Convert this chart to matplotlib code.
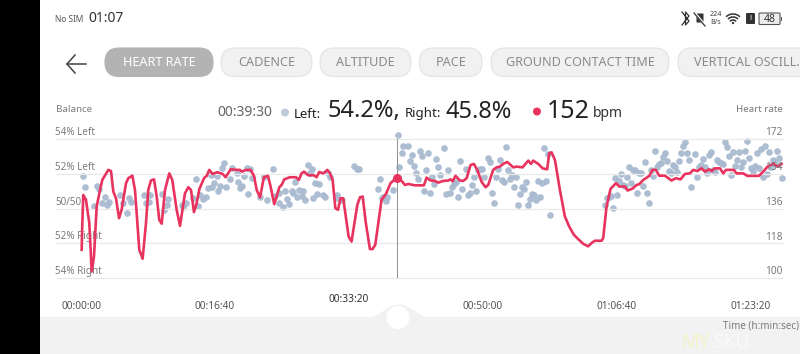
import numpy as np
import matplotlib
matplotlib.use("Agg")
import matplotlib.pyplot as plt
from matplotlib.patches import FancyBboxPatch, Rectangle, Circle

plt.rcParams['font.family'] = ['Noto Sans', 'DejaVu Sans']

#heart rate line: time in seconds, bpm
hr_time = [5,10,17,37,62,80,97,117,142,159,204,224,241,261,284,303,336,353,383,403,435,460,485,502,522,545,565,584,602,627,659,681,714,739,776,801,821,843,863,883,918,938,957,982,1017,1057,1079,1117,1161,1186,1201,1231,1266,1291,1311,1336,1365,1395,1415,1442,1480,1497,1517,1559,1604,1626,1646,1664,1696,
    1738,1758,1778,1808,1838,1858,1878,1898,1918,1937,1957,1997,2019,2062,2082,2102,2126,2156,2176,2196,2243,2276,2310,2355,2393,2417,2442,2492,2559,2579,2609,2641,2666,2703,2741,2758,2773,2795,2828,2853,2878,2907,2932,2957,2989,3019,3039,3076,3101,3126,3151,3181,3226,3251,3295,3338,3358,3375,3412,3445,3479,3494,3512,3537,3574,3611,3643,
    3678,3711,3748,3785,3810,3835,3885,3897,3922,3952,3992,4017,4059,4079,4116,4146,4166,4196,4241,4265,4290,4315,4357,4407,4439,4474,4507,4544,4569,4599,4631,4656,4688,4706,4730,4768,4793,4813,4872,4892,4942,4972,5059,5091,5128,5166,5196,5228]
hr_bpm = [114.6,128.4,143.0,140.5,128.4,103.4,111.2,137.0,145.6,150.8,156.0,155.4,144.8,141.3,131.0,135.3,149.1,151.7,153.0,145.6,114.6,110.0,128.4,145.6,150.5,151.1,142.2,130.1,128.1,145.6,154.2,150.8,135.3,127.0,143.9,147.0,145.6,134.1,138.7,146.0,151.7,152.9,156.0,153.9,154.8,153.9,152.2,156.3,156.0,156.0,155.1,156.0,156.0,152.9,145.6,141.8,152.2,152.9,147.4,138.2,147.0,148.2,151.1,152.2,152.2,150.8,154.2,155.1,153.2,
    153.2,152.2,154.9,154.2,156.0,154.2,150.8,136.2,135.3,141.3,141.3,121.5,118.9,137.9,141.8,142.2,128.4,115.0,115.0,117.2,140.5,143.6,149.1,152.0,150.3,148.2,148.7,148.0,148.0,152.0,150.5,150.3,149.4,150.3,150.5,151.1,150.1,152.9,150.5,150.3,151.7,158.5,159.1,156.0,149.9,147.0,148.2,156.0,157.3,157.7,159.1,160.1,157.3,157.7,157.3,160.8,159.1,160.8,159.1,156.8,156.3,164.6,165.1,161.1,145.6,131.9,126.7,
    122.4,120.1,117.7,116.4,118.1,119.3,119.3,120.7,137.0,146.2,149.1,147.4,147.4,145.3,146.3,148.2,148.6,150.8,152.9,156.0,156.0,153.0,153.0,150.5,151.7,151.1,153.9,154.2,156.0,155.4,156.8,155.1,156.3,155.4,156.8,156.8,154.2,156.0,156.0,154.2,154.2,152.9,152.9,155.1,158.0,159.1,157.7,159.1]

#balance dots: time in seconds, left share in percent
bal_time = [17,32,117,132,99,154,179,191,206,293,311,341,356,371,470,485,515,505,607,639,652,619,751,781,764,860,838,888,875,913,933,950,975,992,967,1012,1025,1040,1084,1069,1054,1112,1129,1161,1174,1204,1186,1248,1219,1236,1261,1278,1336,1368,1385,1435,1447,1480,1480,1510,1525,1539,1554,1572,1584,1597,1614,1629,1646,1659,1674,1691,
    1721,1709,1733,1746,1778,1763,1803,1821,1845,1858,1908,1913,1950,2039,2057,2072,2228,2213,2243,2256,2276,2286,2325,2363,2375,2393,2405,2437,2467,2529,2542,2587,2455,2482,2497,2512,2574,2619,2646,2661,2679,2706,2738,2557,2601,2631,2721,2751,2768,2783,2798,2810,2825,2840,2870,2885,2900,2915,2932,2947,2960,2975,2989,3007,3037,3052,3067,3081,3096,3111,3126,3141,3156,3171,3186,3201,3216,3231,3246,3261,3275,3290,3305,3320,3335,3350,3365,3380,3395,3410,3425,3440,3455,3469,3484,3499,
    3907,3922,3937,3952,3969,3984,3999,4014,4029,4044,4059,4074,4089,4104,4119,4134,4148,4163,4178,4193,4208,4223,4238,4253,4268,4283,4298,4313,4328,4342,4357,4372,4387,4402,4417,4432,4447,4462,4477,4492,4507,4522,4536,4551,4584,4599,4614,4628,4643,4658,4673,4688,4703,4718,4733,4748,4763,4778,4793,4808,4822,4837,4852,4867,4882,4897,4912,4927,4942,4957,4972,4987,5002,5016,5031,5046,5061,5076,5091,5106,5121,5136,5151,5166,5181,5196,5210,5228]
bal_left = [51.89,51.21,51.30,51.11,50.17,50.34,50.69,50.21,50.40,50.75,50.31,49.73,50.59,50.40,50.77,50.34,50.78,50.40,50.82,50.21,50.57,49.92,50.21,50.31,50.08,51.68,50.59,50.78,50.17,50.54,50.65,51.17,51.21,51.45,51.93,51.88,50.98,51.32,51.22,52.60,52.32,51.68,52.32,52.07,51.51,51.30,51.17,50.84,51.88,52.32,52.26,51.74,50.65,51.80,50.50,52.26,50.73,50.88,50.34,50.06,51.03,50.57,50.25,51.03,50.88,51.55,50.65,51.07,50.73,50.98,50.50,52.51,
    52.26,52.03,50.59,51.45,51.40,50.84,50.78,50.65,52.03,51.80,50.78,50.59,50.50,52.45,52.26,52.26,51.70,51.15,50.59,50.69,50.44,50.65,51.07,54.23,52.37,53.18,53.60,53.60,53.08,53.31,53.04,53.22,52.76,52.45,52.03,51.68,52.22,51.84,52.83,52.37,51.95,53.50,52.22,50.98,50.88,51.40,50.84,50.88,51.22,51.40,51.55,50.69,52.76,51.15,52.26,50.78,50.92,51.36,51.80,51.03,52.22,52.26,52.26,51.80,52.89,52.68,50.88,50.34,51.84,52.26,52.79,51.65,51.55,53.52,52.22,51.68,51.93,51.22,51.80,50.23,50.84,51.22,51.11,51.55,50.23,50.56,50.84,50.78,50.50,51.61,50.69,51.49,53.46,51.57,53.14,49.64,
    50.23,50.63,50.69,50.73,50.02,51.76,50.75,51.61,51.99,51.36,51.30,51.80,52.37,51.49,52.22,52.22,50.88,52.07,52.03,51.32,52.70,50.90,50.29,52.22,51.86,53.31,52.41,52.56,52.64,52.99,53.22,52.76,52.16,52.07,52.51,52.37,52.12,52.74,53.18,53.60,53.81,53.18,52.79,51.26,53.12,51.84,52.41,52.51,52.85,52.41,52.05,53.08,53.27,52.22,52.12,52.79,52.70,52.64,52.56,53.81,53.56,53.04,51.93,53.23,52.45,52.79,53.27,52.41,52.66,53.29,53.89,52.89,52.32,52.18,52.45,53.22,52.32,53.41,51.80,53.62,51.99,53.23,52.37,52.79,52.60,53.31,52.89,51.74]

cursor_time = 2355
cursor_bpm = 152.0

xtick_vals = [0,1000,2000,3000,4000,5000]
xtick_labels = ['00:00:00','00:16:40','00:33:20','00:50:00','01:06:40','01:23:20']
hr_ticks = [100,118,136,154,172]
hr_tick_labels = ['100','118','136','154','172']
bal_ticks = [54,52,50,48,46]
bal_tick_labels = ['54% Left','52% Left','50/50','52% Right','54% Right']
tabs = ['HEART RATE','CADENCE','ALTITUDE','PACE','GROUND CONTACT TIME','VERTICAL OSCILL.']

RED = '#e8335f'
DOT = '#a9bad0'
GRAY = '#7b7b7b'
DARK = '#222222'

fig = plt.figure(figsize=(8, 3.54), dpi=100)

#background layer in pixel coordinates for the app screen
bg = fig.add_axes([0, 0, 1, 1], zorder=0)
bg.set_xlim(0, 800)
bg.set_ylim(354, 0)
bg.axis('off')
bg.add_patch(Rectangle((0, 0), 40, 354, color='black', lw=0))
bg.add_patch(Rectangle((40, 317), 760, 37, color='#f2f2f2', lw=0))
bump_x = np.linspace(367, 430, 60)
bump_y = 317 - 13*np.cos((bump_x-398.5)/31.5*np.pi/2)**2
bg.fill_between(bump_x, bump_y, 318, color='#f2f2f2', lw=0)
bg.add_patch(Circle((398, 317.5), 11.5, color='white', lw=0))

#status bar
bg.text(55, 19, 'No SIM', fontsize=6, color='#555555', va='center')
bg.text(88, 19, '01:07', fontsize=10, color='#333333', va='center')
#bluetooth, bell and sim marks, roughly
bg.plot([682,689,685.5,685.5,689,682], [12,21,25,12,16,25], color='#333333', lw=0.9)
bg.add_patch(FancyBboxPatch((697,14), 6, 8, boxstyle='round,pad=0.5', color='#333333', lw=0))
bg.plot([694,705], [12,25], color='white', lw=1.6)
bg.plot([694,705], [13,26], color='#333333', lw=0.9)
bg.text(716, 14.5, '224', fontsize=5.2, color='#444444', ha='center', va='center')
bg.text(716, 22.5, 'B/s', fontsize=5.2, color='#444444', ha='center', va='center')
for r in [10, 7, 4]:
    t = np.linspace(np.pi*0.28, np.pi*0.72, 20)
    bg.plot(733+r*np.cos(t), 24-r*np.sin(t)*1.0, color='#333333', lw=1.1)
bg.add_patch(Circle((733, 23), 1.2, color='#333333', lw=0))
bg.add_patch(FancyBboxPatch((747,14), 7, 9, boxstyle='round,pad=1', color='#333333', lw=0))
bg.text(750.5, 18.5, '!', fontsize=5.5, color='white', ha='center', va='center', fontweight='bold')
bg.add_patch(FancyBboxPatch((760,14), 19, 9.5, boxstyle='round,pad=1', fc='#eeeeee', ec='#555555', lw=0.8))
bg.add_patch(Rectangle((781,16.5), 1.2, 4, color='#555555', lw=0))
bg.text(769.5, 19, '48', fontsize=7.5, color='#333333', ha='center', va='center')

#back arrow
bg.plot([86,67], [64,64], color='#444444', lw=1.1)
bg.plot([75,67,75], [55,64,73], color='#444444', lw=1.1)

#tabs
tab_left = [105,221,320,419.5,491,678]
tab_right = [213,312,411,482,669,815]
for i in range(len(tabs)):
    sel = i == 0
    bg.add_patch(FancyBboxPatch((tab_left[i]+14, 48+14), tab_right[i]-tab_left[i]-28, 0.5,
                 boxstyle='round,pad=14', fc='#b3b3b3' if sel else '#f1f1f1',
                 ec='#b3b3b3' if sel else '#e3e3e3', lw=0.8, clip_on=True))
    if i < 5:
        bg.text((tab_left[i]+tab_right[i])/2, 63, tabs[i], fontsize=9.1,
                color='white' if sel else '#8a8a8a', ha='center', va='center')
    else:
        bg.text(694, 63, tabs[i], fontsize=9.1, color='#8a8a8a', ha='left', va='center')

#header readout
bg.text(217, 113, '00:39:30', fontsize=10, color='#666666', va='center')
bg.add_patch(Circle((285, 112.5), 4, color='#bccada', lw=0))
bg.text(294, 114, 'Left:', fontsize=9.5, color=DARK, va='center')
bg.text(328, 111.5, '54.2%,', fontsize=17, color=DARK, va='center')
bg.text(405, 114, 'Right:', fontsize=9.5, color=DARK, va='center')
bg.text(446, 111.5, '45.8%', fontsize=17, color=DARK, va='center')
bg.add_patch(Circle((537, 111.5), 4, color=RED, lw=0))
bg.text(547, 111, '152', fontsize=18, color=DARK, va='center')
bg.text(593, 113.5, 'bpm', fontsize=10, color='#333333', va='center')
bg.text(56, 110, 'Balance', fontsize=7, color=GRAY, va='center')
bg.text(783, 110, 'Heart rate', fontsize=7, color=GRAY, va='center', ha='right')
bg.text(799, 325.5, 'Time (h:min:sec)', fontsize=7.1, color=GRAY, va='center', ha='right')
bg.text(681, 343, 'MY', fontsize=14, color='#f3f3b0', va='center', fontweight='bold', alpha=0.6)
bg.text(713, 343, 'SKU', fontsize=14, color='white', va='center', fontweight='bold', alpha=0.55)

#chart, 134 px per 1000 s
left, right, top, bottom = 81, 782, 139, 278
rect = [left/800, 1-bottom/354, (right-left)/800, (bottom-top)/354]
ax_bal = fig.add_axes(rect, zorder=1)
ax_hr = fig.add_axes(rect, zorder=2)
ax_hr.patch.set_visible(False)
ax_bal.patch.set_visible(False)

ax_bal.set_xlim(0, (right-left)*1000/134)
ax_hr.set_xlim(0, (right-left)*1000/134)
ax_bal.set_ylim(46, 54)
ax_hr.set_ylim(100, 172)

for tk in hr_ticks:
    ax_hr.plot([-180, 5232], [tk, tk], color='#e9e9e9', lw=0.9, clip_on=False, zorder=1)
ax_hr.plot([cursor_time, cursor_time], [100, 172], color='#909090', lw=0.7, zorder=2)
ax_bal.scatter(bal_time, bal_left, s=23, color=DOT, lw=0, clip_on=False, alpha=0.95)
ax_hr.plot(hr_time, hr_bpm, color=RED, lw=1.9, solid_joinstyle='round', clip_on=False, zorder=3)
ax_hr.scatter([cursor_time], [cursor_bpm], s=42, color=RED, lw=0, zorder=4)

for ax in [ax_bal, ax_hr]:
    for s in ax.spines.values():
        s.set_visible(False)
ax_bal.set_xticks([])
ax_bal.set_yticks([])
ax_hr.set_yticks([])
ax_hr.set_xticks(xtick_vals)
ax_hr.set_xticklabels(xtick_labels, fontsize=7.3, color='#555555')
ax_hr.tick_params(axis='x', length=0, pad=16.5)
bold = ax_hr.get_xticklabels()[2]
bold.set_fontweight('bold')
bold.set_color('#333333')
bold.set_y(0.05)

for val, lab in zip(bal_ticks, bal_tick_labels):
    ax_bal.annotate(lab, xy=(0, val), xycoords=('axes fraction', 'data'), xytext=(-18.5, 4.5),
                    textcoords='offset points', fontsize=7.1, color=GRAY, va='center', ha='left')
for val, lab in zip(hr_ticks, hr_tick_labels):
    ax_hr.annotate(lab, xy=(1, val), xycoords=('axes fraction', 'data'), xytext=(0.5, 4.5),
                   textcoords='offset points', fontsize=7.3, color=GRAY, va='center', ha='right')

fig.savefig('out.png', dpi=100)
